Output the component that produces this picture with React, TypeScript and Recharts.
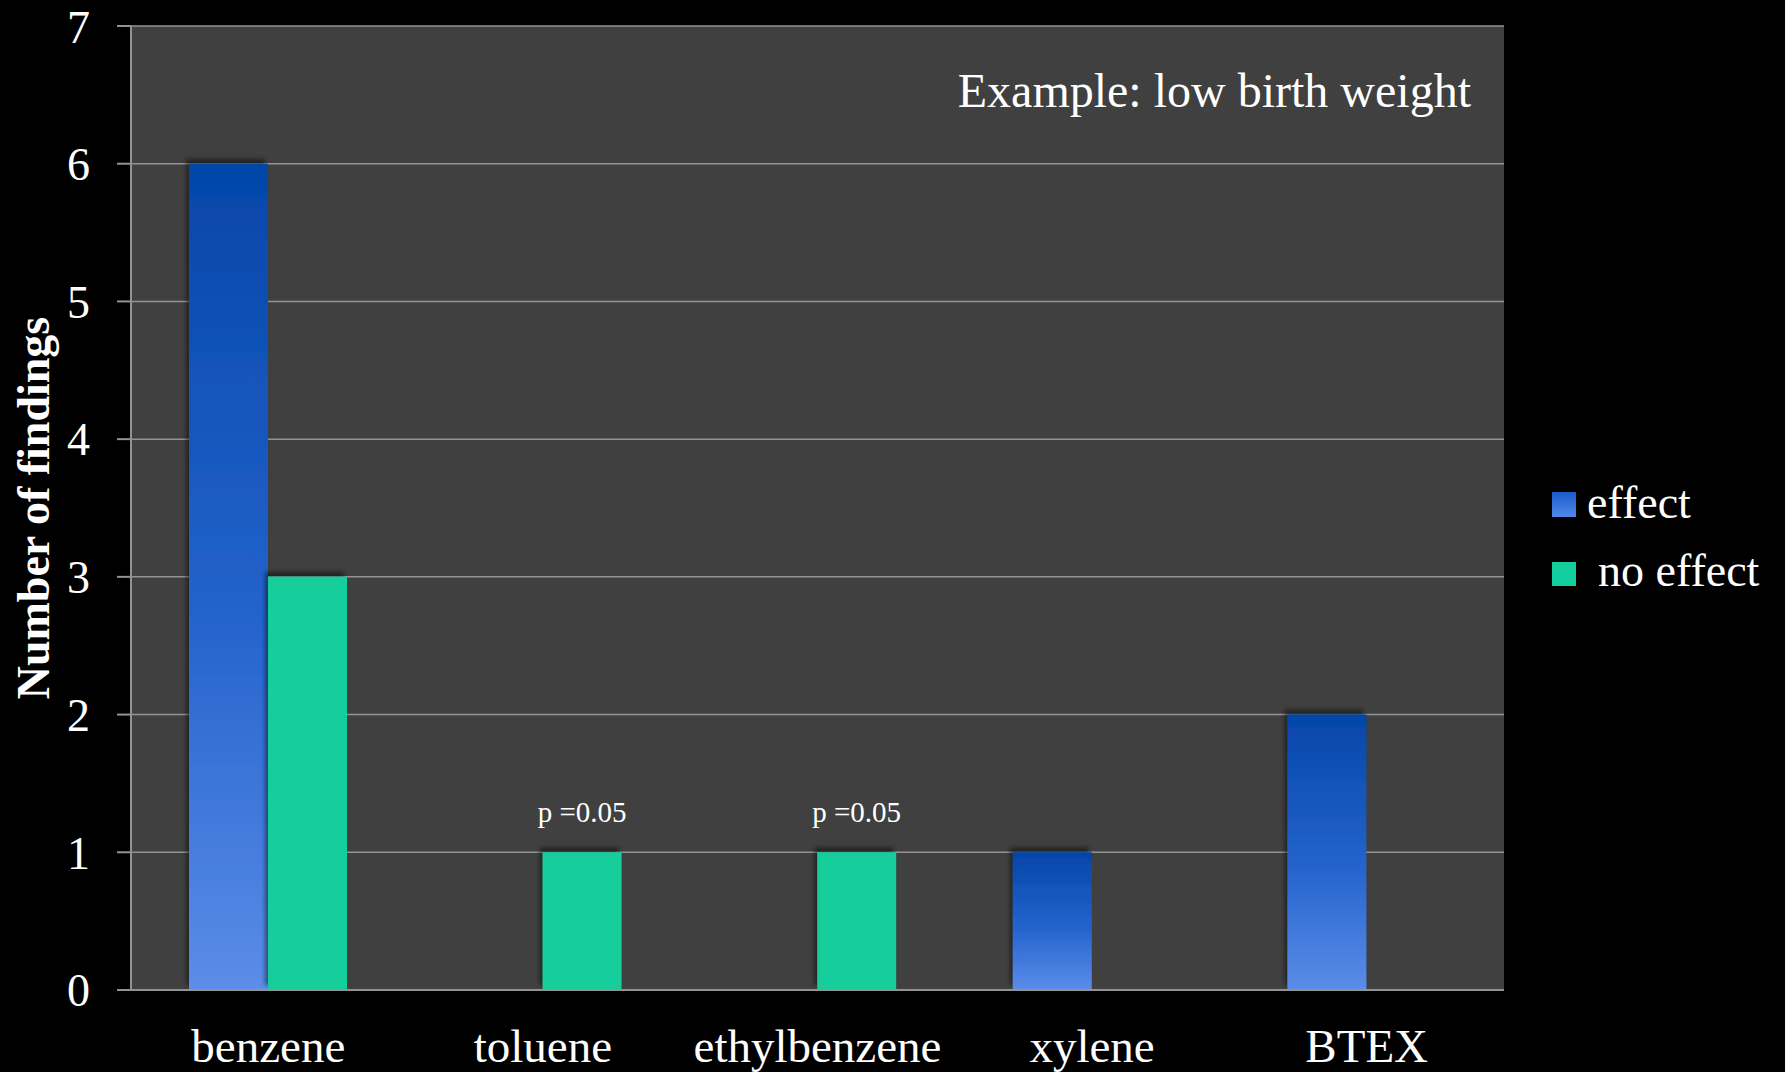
import React from "react";
import {
  BarChart,
  Bar,
  XAxis,
  YAxis,
  CartesianGrid,
  LabelList,
  Label,
} from "recharts";

// values
const categories = ["benzene", "toluene", "ethylbenzene", "xylene", "BTEX"];
const effect = [6, 0, 0, 1, 2];
const noEffect = [3, 1, 1, 0, 0];
const notes = ["", "p =0.05", "p =0.05", "", ""];
const yTicks = [0, 1, 2, 3, 4, 5, 6, 7];

const data = categories.map((name, i) => ({
  name,
  effect: effect[i],
  noEffect: noEffect[i],
  note: notes[i],
}));

const FONT = "'Liberation Serif', 'Times New Roman', serif";
const GRID = "#939393";

const YTitle = () => (
  <text
    x={33}
    y={508}
    transform="rotate(-90, 33, 508)"
    textAnchor="middle"
    dominantBaseline="central"
    fill="#fff"
    fontFamily={FONT}
    fontWeight="bold"
    fontSize={46}
  >
    Number of findings
  </text>
);

export default function App() {
  return (
    <div
      style={{
        position: "absolute",
        left: 0,
        top: 0,
        width: 1785,
        height: 1072,
        background: "#000",
        fontFamily: FONT,
      }}
    >
      <BarChart
        width={1785}
        height={1072}
        data={data}
        margin={{ top: 26, right: 281, bottom: 0, left: 0 }}
        barCategoryGap={58}
        barGap={0}
      >
        <defs>
          <linearGradient id="blueGrad" x1="0" y1="0" x2="0" y2="1">
            <stop offset="0%" stopColor="#0446A8" />
            <stop offset="55%" stopColor="#2463CC" />
            <stop offset="100%" stopColor="#5B8DE8" />
          </linearGradient>
          <filter id="barShadow" x="-20%" y="-20%" width="140%" height="140%">
            <feDropShadow dx={-3} dy={-5} stdDeviation={2} floodColor="#000" floodOpacity={0.45} />
          </filter>
        </defs>
        <CartesianGrid vertical={false} stroke={GRID} strokeWidth={1.5} fill="#404040" />
        <XAxis
          dataKey="name"
          height={82}
          tickLine={false}
          tickMargin={33}
          axisLine={{ stroke: GRID, strokeWidth: 2 }}
          tick={{ fill: "#fff", fontSize: 47, fontFamily: FONT }}
          interval={0}
        />
        <YAxis
          width={131}
          domain={[0, 7]}
          ticks={yTicks}
          tickSize={14}
          tickMargin={27}
          tickLine={{ stroke: GRID, strokeWidth: 2 }}
          axisLine={{ stroke: GRID, strokeWidth: 2 }}
          tick={{ fill: "#fff", fontSize: 46, fontFamily: FONT }}
        >
          <Label content={<YTitle />} />
        </YAxis>
        <Bar
          dataKey="effect"
          fill="url(#blueGrad)"
          filter="url(#barShadow)"
          isAnimationActive={false}
        />
        <Bar
          dataKey="noEffect"
          fill="#12CE9C"
          filter="url(#barShadow)"
          isAnimationActive={false}
        >
          <LabelList
            dataKey="note"
            position="top"
            offset={30}
            fill="#fff"
            fontSize={29}
            fontFamily={FONT}
          />
        </Bar>
      </BarChart>

      <svg
        width={1785}
        height={1072}
        style={{ position: "absolute", left: 0, top: 0, pointerEvents: "none" }}
      >
        <defs>
          <linearGradient id="legendBlue" x1="0" y1="0" x2="0" y2="1">
            <stop offset="0%" stopColor="#1B5BCC" />
            <stop offset="100%" stopColor="#5088E8" />
          </linearGradient>
        </defs>
        <text
          x={1471}
          y={107}
          textAnchor="end"
          fill="#fff"
          fontFamily={FONT}
          fontSize={48}
        >
          Example: low birth weight
        </text>
        <rect x={1552} y={492} width={24} height={25} fill="url(#legendBlue)" />
        <text x={1587} y={518} fill="#fff" fontFamily={FONT} fontSize={46}>
          effect
        </text>
        <rect x={1552} y={562} width={24} height={24} fill="#12CE9C" />
        <text x={1598} y={586} fill="#fff" fontFamily={FONT} fontSize={46}>
          no effect
        </text>
      </svg>
    </div>
  );
}
